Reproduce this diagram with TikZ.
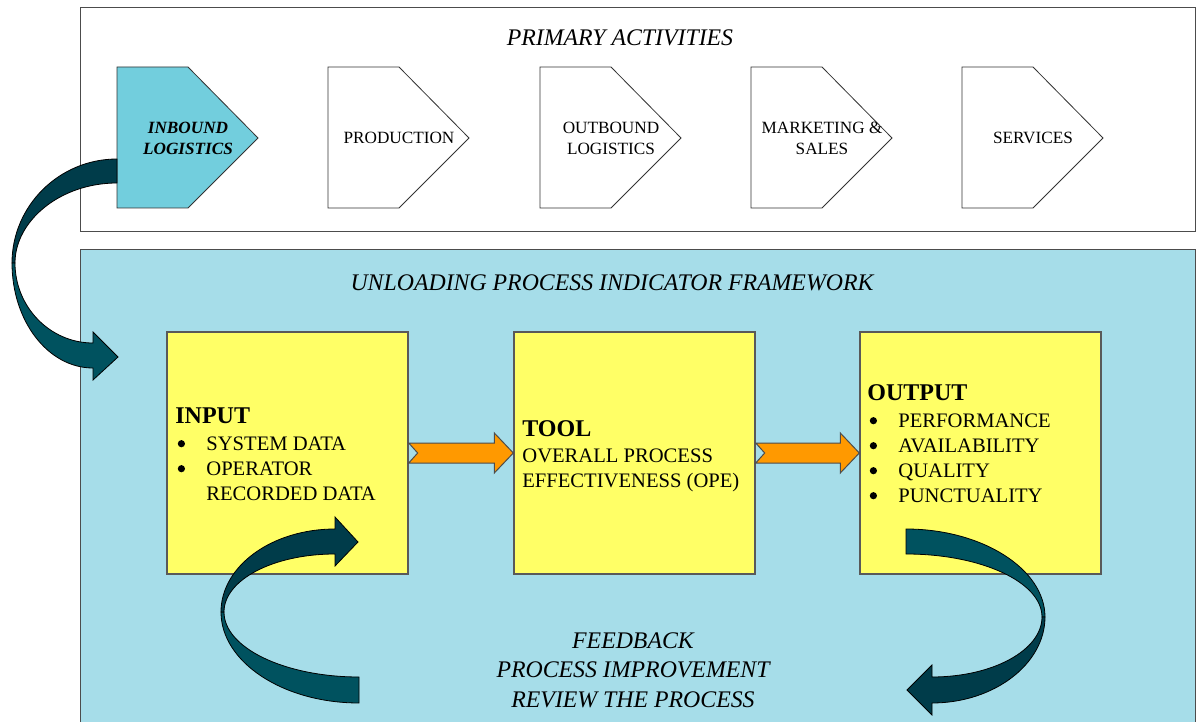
\documentclass[tikz,border=0pt]{standalone}
\usepackage{fontspec}
\setmainfont{Liberation Serif}
\usetikzlibrary{calc}
\definecolor{framecyan}{HTML}{A6DDE9}
\definecolor{inboundcyan}{HTML}{72CEDD}
\definecolor{boxyellow}{HTML}{FFFF66}
\definecolor{flowarrow}{HTML}{FF9900}
\definecolor{tealdark}{HTML}{003C4A}
\definecolor{teallight}{HTML}{00525F}
\newcommand{\bigdot}{\hspace*{1.2pt}\raisebox{1.8pt}{\tikz\fill (0,0) circle (1.8pt);}}

\begin{document}
\begin{tikzpicture}[x=0.5pt,y=-0.5pt,line join=miter,
  frame/.style={draw=gray!60!black,line width=0.5pt},
  chain/.style={draw=black!80,line width=0.4pt},
  chainlabel/.style={font=\fontsize{8.6}{10.5}\selectfont,align=center,inner sep=0pt},
  stagebox/.style={draw=black!65,line width=0.7pt,fill=boxyellow,minimum width=120.5pt,minimum height=121pt,inner sep=0pt},
  stagetext/.style={anchor=north west,inner sep=0pt,font=\fontsize{10.3}{12.5}\selectfont},
  flow/.style={fill=flowarrow,draw=black!70,line width=0.5pt},
  loopdark/.style={fill=tealdark,draw=black,line width=0.4pt},
  looplight/.style={fill=teallight,draw=black,line width=0.4pt},
  heading/.style={font=\fontsize{11.9}{14.8}\selectfont\itshape,inner sep=0pt,align=center}]
\useasboundingbox (0,0) rectangle (1196,722);

% frames
\draw[frame,fill=white] (80,8) rectangle (1195,232);
\draw[frame,fill=framecyan] (80,250) rectangle (1195,730);
\node[heading] (primary) at (620,38) {PRIMARY ACTIVITIES};
\node[heading] (framework) at (612,283) {UNLOADING PROCESS INDICATOR FRAMEWORK};

% value chain
\draw[chain,fill=inboundcyan] (117,67) -- (188,67) -- (258,138) -- (188,208) -- (117,208) -- cycle;
\node[chainlabel,font=\fontsize{8.6}{10.5}\selectfont\bfseries\itshape] (inbound) at (188,138) {INBOUND\\LOGISTICS};
\foreach \x/\name/\txt in {328/production/PRODUCTION,540/outbound/{OUTBOUND\\LOGISTICS},751/marketing/{MARKETING \&\\SALES},962/services/SERVICES}{
  \draw[chain,fill=white] (\x,67) -- (\x+71,67) -- (\x+141,138) -- (\x+71,208) -- (\x,208) -- cycle;
  \node[chainlabel] (\name) at (\x+71,138) {\txt};
}

% stages
\node[stagebox] (input) at (287.5,453) {};
\node[stagebox] (tool) at (634.5,453) {};
\node[stagebox] (output) at (980.5,453) {};
\node[stagetext] (inputtxt) at (175,406) {\begin{tabular}{@{}p{15.5pt}@{}l@{}}
  \multicolumn{2}{@{}l@{}}{\fontsize{12}{12.5}\selectfont\bfseries INPUT}\\[1pt]
  \bigdot & SYSTEM DATA\\
  \bigdot & OPERATOR\\
  & RECORDED DATA
\end{tabular}};
\node[stagetext] (tooltxt) at (522,419) {\begin{tabular}{@{}l@{}}
  {\fontsize{12}{12.5}\selectfont\bfseries TOOL}\\[0.5pt]
  OVERALL PROCESS\\
  EFFECTIVENESS (OPE)
\end{tabular}};
\node[stagetext] (outputtxt) at (867,383) {\begin{tabular}{@{}p{15.5pt}@{}l@{}}
  \multicolumn{2}{@{}l@{}}{\fontsize{12}{12.5}\selectfont\bfseries OUTPUT}\\[1pt]
  \bigdot & PERFORMANCE\\
  \bigdot & AVAILABILITY\\
  \bigdot & QUALITY\\
  \bigdot & PUNCTUALITY
\end{tabular}};

\foreach \a/\b in {input/tool,tool/output}{
  \draw[flow] ($(\a.east)+(0,-10)$) -- ($(\b.west)+(-19,-10)$) -- ($(\b.west)+(-19,-20)$)
    -- (\b.west) -- ($(\b.west)+(-19,20)$) -- ($(\b.west)+(-19,10)$)
    -- ($(\a.east)+(0,10)$) -- ($(\a.east)+(9,0)$) -- cycle;
}

% loops
\draw[loopdark] (117,159) .. controls (59,159) and (12,206) .. (12,263) -- (15,263)
  .. controls (15,221) and (60,183) .. (117,183) -- cycle;
\draw[looplight] (12,263) .. controls (12,321) and (48,368) .. (93,368) -- (93,380) -- (118,357)
  -- (93,332) -- (93,343) .. controls (50,343) and (15,307) .. (15,263) -- cycle;

\draw[looplight] (359,677) -- (359,703) .. controls (283,703) and (221,662) .. (221,612) -- (224,612)
  .. controls (224,648) and (285,677) .. (359,677) -- cycle;
\draw[loopdark] (221,612) .. controls (221,566) and (272,529) .. (335,529) -- (335,517) -- (358,542)
  -- (335,566) -- (335,554) .. controls (273,554) and (224,580) .. (224,612) -- cycle;

\draw[looplight] (906,529) .. controls (982,529) and (1045,569) .. (1045,617) -- (1042,617)
  .. controls (1042,582) and (981,554) .. (906,554) -- cycle;
\draw[loopdark] (1045,617) .. controls (1045,664) and (994,703) .. (932,703) -- (932,715) -- (907,690)
  -- (932,665) -- (932,677) .. controls (993,677) and (1042,650) .. (1042,617) -- cycle;

\node[heading] (feedback) at (633,670) {FEEDBACK\\PROCESS IMPROVEMENT\\REVIEW THE PROCESS};
\end{tikzpicture}
\end{document}
